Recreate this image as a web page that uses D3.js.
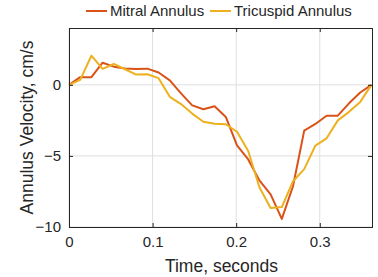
<!DOCTYPE html>
<html>
<head>
<meta charset="utf-8">
<script src="https://cdn.jsdelivr.net/npm/d3@7"></script>
<style>
  body { margin: 0; background: #fff; }
  text { font-family: "Liberation Sans", Arial, Helvetica, sans-serif; fill: #262626; }
</style>
</head>
<body>
<div class="graphContainer"></div>
<script>
// Chart size and plot box
const w = 378;
const h = 277;
const m = { left: 69, right: 6, top: 28, bottom: 50 };

// Data
const time = [0, 0.0134, 0.0268, 0.0402, 0.0536, 0.067, 0.0804, 0.0938, 0.1072, 0.1206,
  0.134, 0.1474, 0.1608, 0.1742, 0.1876, 0.201, 0.2144, 0.2278, 0.2412, 0.2546,
  0.268, 0.2814, 0.2948, 0.3082, 0.3216, 0.335, 0.3484, 0.3618];
const mitral = [0, 0.54, 0.54, 1.56, 1.28, 1.15, 1.12, 1.14, 0.87, 0.32,
  -0.6, -1.44, -1.72, -1.5, -2.26, -4.26, -5.25, -6.72, -7.7, -9.43,
  -7.13, -3.22, -2.75, -2.17, -2.17, -1.3, -0.54, 0];
const tricuspid = [0, 0.35, 2.05, 1.12, 1.47, 1.10, 0.72, 0.75, 0.47, -0.84,
  -1.35, -2.02, -2.6, -2.73, -2.77, -3.3, -4.65, -7.2, -8.66, -8.6,
  -6.78, -5.93, -4.27, -3.76, -2.5, -1.9, -1.2, 0];
const seriesNames = ["Mitral Annulus", "Tricuspid Annulus"];
const colors = ["#D95319", "#EDB120"];
const xTicks = [0, 0.1, 0.2, 0.3];
const yTicks = [-10, -5, 0];

const svg = d3.select(".graphContainer").append("svg")
  .attr("width", w)
  .attr("height", h);

const xScale = d3.scaleLinear().domain([0, 0.3625]).range([m.left, w - m.right]);
const yScale = d3.scaleLinear().domain([-10, 4]).range([h - m.bottom, m.top]);

// grid
svg.append("g").selectAll("line").data(xTicks).join("line")
  .attr("x1", d => xScale(d)).attr("x2", d => xScale(d))
  .attr("y1", m.top).attr("y2", h - m.bottom)
  .attr("stroke", "#dfdfdf");
svg.append("g").selectAll("line").data(yTicks).join("line")
  .attr("x1", m.left).attr("x2", w - m.right)
  .attr("y1", d => yScale(d)).attr("y2", d => yScale(d))
  .attr("stroke", "#dfdfdf");

// lines
const line = d3.line().x((d, i) => xScale(time[i])).y(d => yScale(d));
[mitral, tricuspid].forEach((s, k) => {
  svg.append("path")
    .datum(s)
    .attr("fill", "none")
    .attr("stroke", colors[k])
    .attr("stroke-width", 2)
    .attr("stroke-linejoin", "round")
    .attr("d", line);
});

// axes (ticks point inward, box on all sides)
const xAxis = d3.axisBottom(xScale).tickValues(xTicks).tickFormat(d3.format("")).tickSize(-4).tickPadding(9);
const yAxis = d3.axisLeft(yScale).tickValues(yTicks).tickSize(-4).tickPadding(8);

const gx = svg.append("g")
  .attr("transform", "translate(0," + (h - m.bottom) + ")")
  .call(xAxis);
const gy = svg.append("g")
  .attr("transform", "translate(" + m.left + ",0)")
  .call(yAxis);
svg.append("g")
  .attr("transform", "translate(0," + m.top + ")")
  .call(d3.axisTop(xScale).tickValues(xTicks).tickSize(-4).tickFormat(""));
svg.append("g")
  .attr("transform", "translate(" + (w - m.right) + ",0)")
  .call(d3.axisRight(yScale).tickValues(yTicks).tickSize(-4).tickFormat(""));

svg.selectAll(".domain").attr("stroke", "#262626");
svg.selectAll(".tick line").attr("stroke", "#262626");
svg.selectAll(".tick text").style("font-size", "15px").attr("fill", "#262626")
  .style("font-family", "'Liberation Sans', Arial, sans-serif");

// axis labels
svg.append("text")
  .attr("x", (m.left + w - m.right) / 2 + 1)
  .attr("y", h - 5)
  .attr("text-anchor", "middle")
  .style("font-size", "17.5px")
  .text("Time, seconds");

svg.append("text")
  .attr("transform", "rotate(-90)")
  .attr("x", -(m.top + h - m.bottom) / 2)
  .attr("y", 33)
  .attr("text-anchor", "middle")
  .style("font-size", "17.5px")
  .text("Annulus Velocity, cm/s");

// legend
const legendX = [86, 210];
seriesNames.forEach((name, k) => {
  svg.append("line")
    .attr("x1", legendX[k]).attr("x2", legendX[k] + 21)
    .attr("y1", 11).attr("y2", 11)
    .attr("stroke", colors[k]).attr("stroke-width", 2);
  svg.append("text")
    .attr("x", legendX[k] + 24)
    .attr("y", 16)
    .style("font-size", "15px")
    .text(name);
});
</script>
</body>
</html>
